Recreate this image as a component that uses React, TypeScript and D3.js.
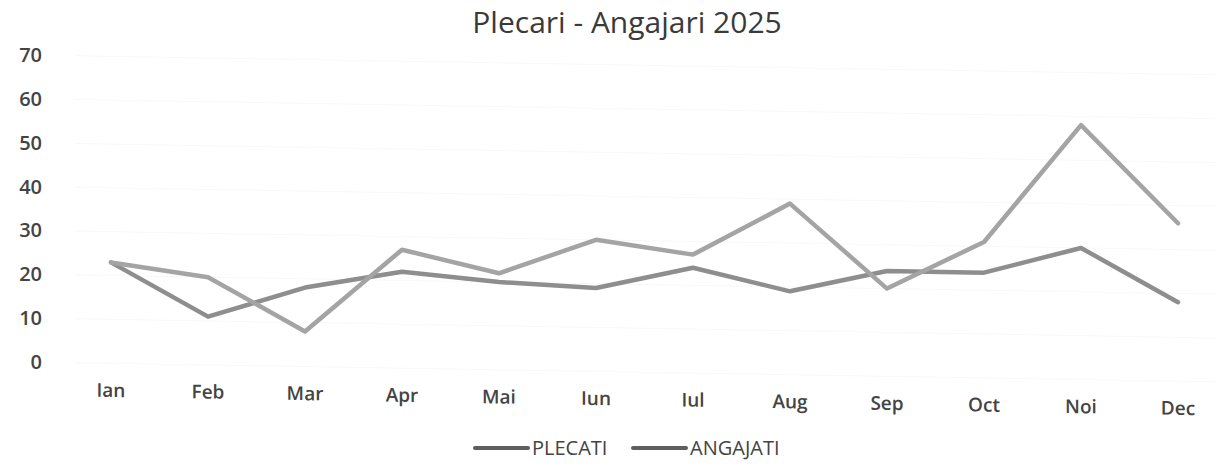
import * as React from 'react';
import * as d3 from 'd3';

const months = ['Ian', 'Feb', 'Mar', 'Apr', 'Mai', 'Iun', 'Iul', 'Aug', 'Sep', 'Oct', 'Noi', 'Dec'];
const plecati = [23, 11, 18, 22, 20, 19, 24, 19, 24, 24, 30, 18];
const angajati = [23, 20, 8, 27, 22, 30, 27, 39, 20, 31, 58, 36];
const yTicks = [0, 10, 20, 30, 40, 50, 60, 70];

const W = 1223;
const H = 475;
const FONT = '"Open Sans", "Noto Sans", sans-serif';
// the scanned page is slightly sheared: right side sits lower
const SHEAR_DEG = 0.96;
const SHEAR_X0 = 35;

const series = [
  { name: 'PLECATI', values: plecati, color: '#8e8e8e', legendX: 475 },
  { name: 'ANGAJATI', values: angajati, color: '#a4a4a4', legendX: 633 },
];

export default function App() {
  const x = d3.scalePoint<string>().domain(months).range([111, 1178]);
  const y = d3.scaleLinear().domain([0, 70]).range([362, 55]);

  const line = d3
    .line<number>()
    .x((d, i) => x(months[i]) as number)
    .y(d => y(d));

  const shear = `translate(${SHEAR_X0},0) skewY(${SHEAR_DEG}) translate(${-SHEAR_X0},0)`;

  return (
    <svg
      width={W}
      height={H}
      style={{ position: 'absolute', left: 0, top: 0, background: '#fff' }}
      fontFamily={FONT}
    >
      <text x={627} y={33} textAnchor="middle" fontSize={30} fontWeight={500} fill="#3a3a3a">
        Plecari - Angajari 2025
      </text>

      {yTicks.map(t => (
        <text
          key={t}
          x={42}
          y={y(t)}
          dy="0.35em"
          textAnchor="end"
          fontSize={20}
          fontWeight={600}
          fill="#444"
        >
          {t}
        </text>
      ))}

      <g transform={shear}>
        {yTicks.map(t => (
          <line key={t} x1={75} x2={1215} y1={y(t)} y2={y(t)} stroke="#f8f8f8" strokeWidth={1} />
        ))}

        {series.map(s => (
          <path
            key={s.name}
            d={line(s.values) || ''}
            fill="none"
            stroke={s.color}
            strokeWidth={4.5}
            strokeLinejoin="round"
            strokeLinecap="round"
          />
        ))}

        {months.map(m => (
          <text
            key={m}
            x={x(m)}
            y={389}
            dy="0.35em"
            textAnchor="middle"
            fontSize={19}
            fontWeight={600}
            fill="#444"
          >
            {m}
          </text>
        ))}
      </g>

      {series.map(s => (
        <g key={s.name}>
          <line
            x1={s.legendX}
            x2={s.legendX + 53}
            y1={448}
            y2={448}
            stroke="#5e5e5e"
            strokeWidth={4}
            strokeLinecap="round"
          />
          <text x={s.legendX + 57} y={448} dy="0.35em" fontSize={20} fill="#444">
            {s.name}
          </text>
        </g>
      ))}
    </svg>
  );
}
